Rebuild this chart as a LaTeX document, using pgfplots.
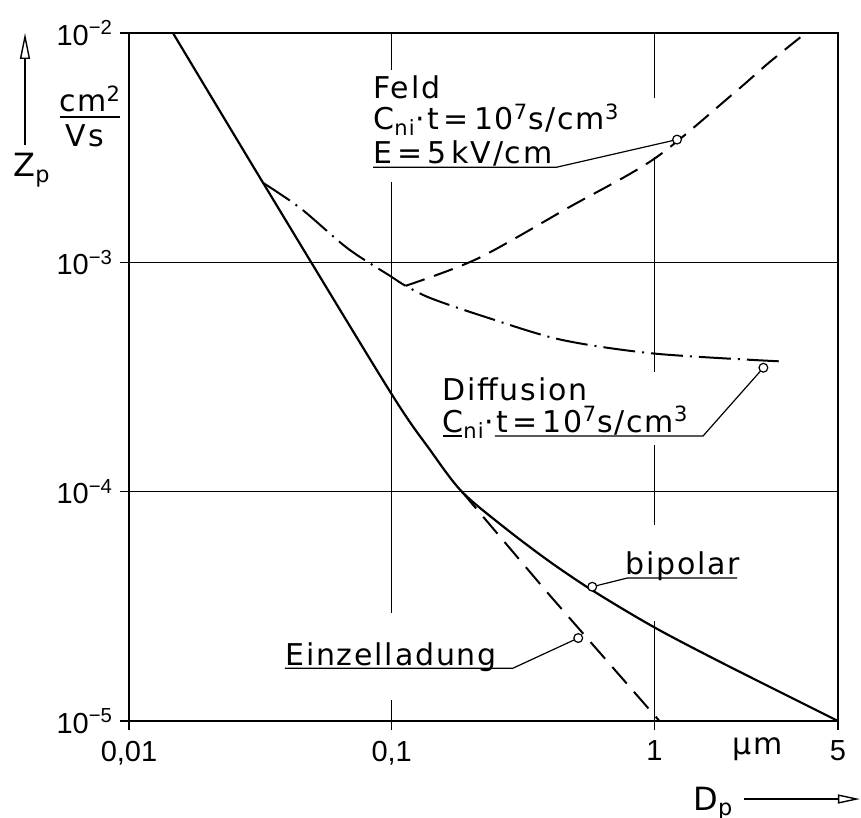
\documentclass[border=0pt]{standalone}
\usepackage{fontspec}
\setmainfont{DejaVu Sans}[LetterSpace=6]
\newfontfamily\tickfont{Liberation Sans}
\usepackage{pgfplots}
\pgfplotsset{compat=1.18}
\usetikzlibrary{arrows.meta}
\tikzset{lab/.style={font=\fontsize{15}{18}\selectfont, inner sep=0pt, anchor=base west},
  leader/.style={line width=0.6pt}}

\begin{document}
\begin{tikzpicture}
\begin{axis}[
  at={(0,0)}, anchor=south west,
  xmode=log, ymode=log,
  xmin=0.01, xmax=5, ymin=1e-5, ymax=1e-2,
  scale only axis, width=354.5pt, height=344pt,
  clip=false, set layers,
  axis line style={line width=0.9pt},
  xtick={0.01,0.1,1,5}, xticklabels={{0,01},{0,1},1,5},
  ytick={1e-5,1e-4,1e-3,1e-2},
  yticklabels={10\textsuperscript{−5},10\textsuperscript{−4},10\textsuperscript{−3},10\textsuperscript{−2}},
  tick label style={font=\tickfont\fontsize{14.5}{17}\selectfont},
  xticklabel style={yshift=-2pt},
  xtick pos=bottom, ytick pos=left,
  tick align=outside, major tick length=4.5pt,
  minor tick style={draw=none}, minor grid style={draw=none},
  tick style={black, line width=0.6pt},
  grid=major, major grid style={black, line width=0.6pt},
]
% gaps in the grid lines behind the labels
\begin{pgfonlayer}{axis ticks}
\fill[white] (axis cs:0.095,2.24e-3) rectangle (axis cs:0.105,6.9e-3);
\fill[white] (axis cs:0.95,2.88e-3) rectangle (axis cs:1.05,5.2e-3);
\fill[white] (axis cs:0.95,1.6e-4) rectangle (axis cs:1.05,3.32e-4);
\fill[white] (axis cs:0.95,2.73e-5) rectangle (axis cs:1.05,7.15e-5);
\fill[white] (axis cs:0.095,1.23e-5) rectangle (axis cs:0.105,2.96e-5);
\end{pgfonlayer}

% bipolar (solid)
\addplot[line width=1.1pt, smooth] coordinates {
 (0.0147,1e-2) (0.0324,2.22e-3) (0.098,2.76e-4) (0.14,1.52e-4) (0.185,1.0e-4)
 (0.269,6.97e-5) (0.395,5.0e-5) (0.583,3.7e-5) (1.0,2.56e-5) (1.85,1.77e-5) (5,1e-5)};
% Einzelladung (dashed)
\addplot[line width=1pt, dash pattern=on 11pt off 5.5pt] coordinates {
 (0.185,1e-4) (0.394,3.6e-5) (1.045,1e-5)};
% Diffusion (dash-dot)
\addplot[line width=1pt, smooth, dash pattern=on 16pt off 3.5pt on 1pt off 3.5pt] coordinates {
 (0.0324,2.22e-3) (0.045,1.72e-3) (0.068,1.15e-3) (0.099,8.7e-4) (0.113,7.9e-4)
 (0.141,6.97e-4) (0.225,5.8e-4) (0.44,4.6e-4) (1.0,4.0e-4) (3.0,3.7e-4)};
% Feld (dashed)
\addplot[line width=1pt, smooth, dash pattern=on 10pt off 5pt] coordinates {
 (0.113,7.9e-4) (0.213,1.04e-3) (0.47,1.73e-3) (1.0,2.83e-3) (1.99,5.42e-3) (2.72,7.4e-3) (3.77,1e-2)};

% labels
\node[lab] at (axis cs:0.0849,5.20e-3) {Feld};
\node[lab] at (axis cs:0.0849,3.78e-3) {C\textsubscript{ni}·t\,=\,10\textsuperscript{7}s/cm\textsuperscript{3}};
\node[lab] at (axis cs:0.0849,2.71e-3) {E\,=\,5\,kV/cm};
\draw[leader] (axis cs:0.0849,2.60e-3) -- (axis cs:0.4256,2.60e-3) -- (axis cs:1.22,3.43e-3);

\node[lab] at (axis cs:0.1554,2.51e-4) {Diffusion};
\node[lab] at (axis cs:0.1554,1.82e-4) {C\textsubscript{ni}·t\,=\,10\textsuperscript{7}s/cm\textsuperscript{3}};
\draw[leader] (axis cs:0.1567,1.748e-4) -- (axis cs:0.1852,1.748e-4);
\draw[leader] (axis cs:0.2472,1.748e-4) -- (axis cs:1.531,1.748e-4) -- (axis cs:2.6,3.47e-4);

\node[lab] at (axis cs:0.773,4.37e-5) {bipolar};
\draw[leader] (axis cs:2.063,4.20e-5) -- (axis cs:0.787,4.20e-5) -- (axis cs:0.58,3.85e-5);

\node[lab] at (axis cs:0.0392,1.75e-5) {Einzelladung};
\draw[leader] (axis cs:0.0392,1.70e-5) -- (axis cs:0.2897,1.70e-5) -- (axis cs:0.513,2.3e-5);

\addplot[only marks, mark=*, mark size=2.2pt, mark options={fill=white, draw=black, line width=0.6pt}]
 coordinates {(1.22,3.43e-3) (2.6,3.47e-4) (0.58,3.85e-5) (0.513,2.3e-5)};

% axis descriptions
\draw[line width=0.7pt, -{Triangle[open,length=13pt,width=5pt]}] (rel axis cs:-0.1467,0.8372) -- (rel axis cs:-0.1467,1.0);
\node[lab, font=\fontsize{16}{18}\selectfont] at (rel axis cs:-0.1636,0.7907) {Z\textsubscript{p}};
\draw[line width=0.7pt] (rel axis cs:-0.0973,0.8779) -- (rel axis cs:-0.0127,0.8779);
\node[lab, anchor=base] at (rel axis cs:-0.055,0.8852) {cm\textsuperscript{2}};
\node[lab, anchor=base] at (rel axis cs:-0.0621,0.8343) {Vs};
\node[lab, font=\fontsize{16}{18}\selectfont] at (rel axis cs:0.7955,-0.1294) {D\textsubscript{p}};
\draw[line width=0.7pt, -{Triangle[open,length=11pt,width=4.5pt]}] (rel axis cs:0.8674,-0.1134) -- (rel axis cs:1.031,-0.1134);
\node[lab] at (rel axis cs:0.8505,-0.0494) {µm};
\end{axis}
\pgfresetboundingbox
\path[use as bounding box] (-64.5pt,-48.5pt) rectangle (366pt,360.5pt);
\end{tikzpicture}
\end{document}
